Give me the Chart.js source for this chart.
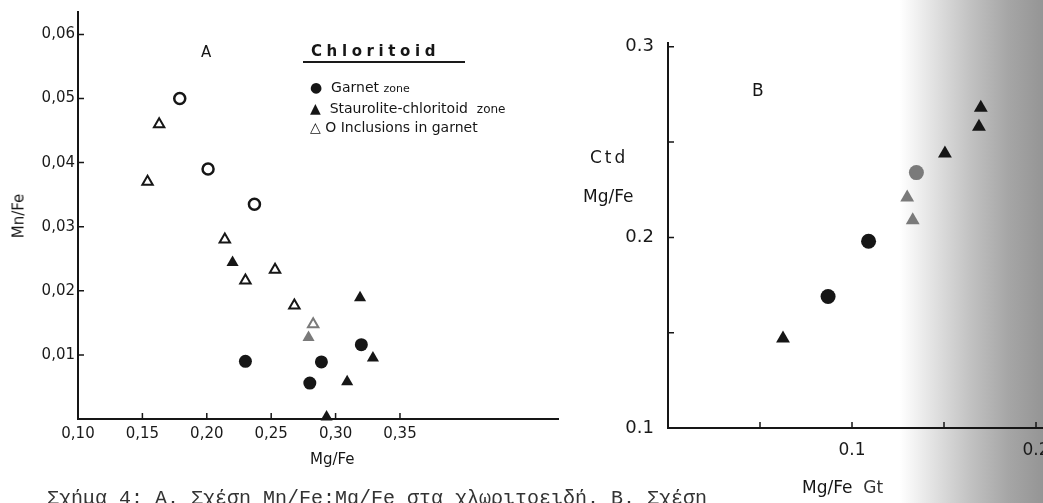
<!DOCTYPE html>
<html>
<head>
<meta charset="utf-8">
<script src="https://cdn.jsdelivr.net/npm/chart.js@4.4.1/dist/chart.umd.min.js"></script>
<style>
  html, body { margin: 0; padding: 0; overflow: hidden; }
  #page {
    position: relative; width: 1043px; height: 503px; overflow: hidden;
    background: linear-gradient(to right, #fff 0px, #fff 900px, #e3e3e3 932px, #c2c2c2 970px, #a6a6a6 1008px, #959595 1043px);
    font-family: "DejaVu Sans", sans-serif; color: #161616;
  }
  canvas { position: absolute; top: 0; }
  .t { position: absolute; line-height: 1; white-space: nowrap; }
</style>
</head>
<body>
<div id="page">
  <canvas id="chartA" width="580" height="503" style="left:0"></canvas>
  <canvas id="chartB" width="520" height="503" style="left:560px"></canvas>

  <div class="t" style="left:11px;top:216px;font-size:15px;transform:translate(0,-50%) rotate(-90deg);transform-origin:center;margin-left:-23px;width:62px;text-align:center">Mn/Fe</div>
  <div class="t" style="left:310px;top:452px;font-size:15px">Mg/Fe</div>
  <div class="t" style="left:201px;top:45px;font-size:15px">A</div>

  <div class="t" style="left:311px;top:44px;font-size:15px;font-weight:bold;letter-spacing:4.6px">Chloritoid</div>
  <div style="position:absolute;left:303px;top:61px;width:162px;height:2px;background:#1a1a1a"></div>
  <div class="t" style="left:310px;top:80px;font-size:14px">●&nbsp;&nbsp;Garnet <span style="font-size:11px">zone</span></div>
  <div class="t" style="left:310px;top:101px;font-size:14px">▲&nbsp;&nbsp;Staurolite-chloritoid&nbsp;&nbsp;<span style="font-size:12px">zone</span></div>
  <div class="t" style="left:310px;top:120px;font-size:14px">△ O Inclusions in garnet</div>

  <div class="t" style="left:752px;top:82px;font-size:17px">B</div>
  <div class="t" style="left:590px;top:149px;font-size:17px;letter-spacing:3px">Ctd</div>
  <div class="t" style="left:583px;top:188px;font-size:17px">Mg/Fe</div>
  <div class="t" style="left:802px;top:479px;font-size:17px">Mg/Fe&nbsp;&nbsp;<span style="color:#333">Gt</span></div>

  <div class="t" style="left:47px;top:489px;font-family:'Liberation Mono',monospace;font-size:20px;color:#333">Σχήμα 4: Α. Σχέση Mn/Fe:Mg/Fe στα χλωριτοειδή. Β. Σχέση</div>
</div>

<script>
// --- Figure A: Mn/Fe vs Mg/Fe (chloritoid) ---
const aGarnetX = [0.320, 0.230, 0.289, 0.280];
const aGarnetY = [0.0116, 0.0090, 0.0089, 0.0056];
const aStauroX = [0.220, 0.319, 0.329, 0.309, 0.293];
const aStauroY = [0.0244, 0.0189, 0.0095, 0.0058, 0.0003];
const aStauroGrayX = [0.279];
const aStauroGrayY = [0.0127];
const aInclTriX = [0.163, 0.154, 0.214, 0.253, 0.230, 0.268];
const aInclTriY = [0.0460, 0.0370, 0.0280, 0.0233, 0.0216, 0.0177];
const aInclTriGrayX = [0.2826];
const aInclTriGrayY = [0.0148];
const aInclCircX = [0.179, 0.201, 0.237];
const aInclCircY = [0.0500, 0.0390, 0.0335];

const aXTicks = [0.10, 0.15, 0.20, 0.25, 0.30, 0.35];
const aXLabels = ['0,10', '0,15', '0,20', '0,25', '0,30', '0,35'];
const aYTicks = [0.01, 0.02, 0.03, 0.04, 0.05, 0.06];
const aYLabels = ['0,01', '0,02', '0,03', '0,04', '0,05', '0,06'];

// --- Figure B: Ctd Mg/Fe vs Gt Mg/Fe ---
const bGarnetX = [0.109, 0.087];
const bGarnetY = [0.198, 0.169];
const bGarnetGrayX = [0.135];
const bGarnetGrayY = [0.234];
const bStauroX = [0.170, 0.169, 0.1505, 0.0625];
const bStauroY = [0.268, 0.258, 0.244, 0.147];
const bStauroGrayX = [0.130, 0.133];
const bStauroGrayY = [0.221, 0.209];

const bXTicks = [0.05, 0.10, 0.15, 0.20];
const bXLabels = ['', '0.1', '', '0.2'];
const bYTicks = [0.10, 0.15, 0.20, 0.25, 0.30];
const bYLabels = ['0.1', '', '0.2', '', '0.3'];

const INK = '#161616';
const GRAY = '#7a7a7a';

function pts(xs, ys) {
    return xs.map((x, i) => ({ x: x, y: ys[i] }));
}

function series(xs, ys, style, fill, stroke, radius, bw) {
    return {
        data: pts(xs, ys),
        pointStyle: style,
        pointRadius: radius,
        pointBackgroundColor: fill,
        pointBorderColor: stroke,
        pointBorderWidth: bw,
        showLine: false,
        clip: false
    };
}

// small tick marks drawn toward the inside of the plot, as on the original drawing
const inwardTicks = {
    id: 'inwardTicks',
    afterDraw(chart) {
        const { ctx, chartArea, scales } = chart;
        ctx.save();
        ctx.strokeStyle = INK;
        ctx.lineWidth = 1.5;
        ctx.beginPath();
        scales.x.ticks.forEach(t => {
            const px = scales.x.getPixelForValue(t.value);
            if (px - chartArea.left < 3) return;
            ctx.moveTo(px, chartArea.bottom);
            ctx.lineTo(px, chartArea.bottom - 6);
        });
        scales.y.ticks.forEach(t => {
            const py = scales.y.getPixelForValue(t.value);
            if (chartArea.bottom - py < 3) return;
            ctx.moveTo(chartArea.left, py);
            ctx.lineTo(chartArea.left + 6, py);
        });
        ctx.stroke();
        ctx.restore();
    }
};

function axis(min, max, tickVals, tickLabels, fixed, isX, font, pad) {
    return {
        type: 'linear',
        min: min,
        max: max,
        grid: { display: false, drawTicks: false },
        border: { display: true, color: INK, width: 2 },
        afterBuildTicks: s => { s.ticks = tickVals.map(v => ({ value: v })); },
        afterFit: s => { if (isX) s.height = fixed; else s.width = fixed; },
        ticks: {
            padding: pad,
            color: '#1a1a1a',
            font: { family: 'DejaVu Sans', size: font },
            callback: (v, i) => tickLabels[i]
        }
    };
}

function baseOptions(padding, scales) {
    return {
        responsive: false,
        animation: false,
        layout: { padding: padding },
        plugins: { legend: { display: false }, tooltip: { enabled: false } },
        scales: scales
    };
}

new Chart(document.getElementById('chartA'), {
    type: 'scatter',
    data: {
        datasets: [
            series(aInclCircX, aInclCircY, 'circle', '#fff', INK, 5.5, 2.5),
            series(aInclTriX, aInclTriY, 'triangle', '#fff', INK, 6, 2),
            series(aInclTriGrayX, aInclTriGrayY, 'triangle', '#fff', GRAY, 6, 2),
            series(aStauroX, aStauroY, 'triangle', INK, INK, 7, 0),
            series(aStauroGrayX, aStauroGrayY, 'triangle', GRAY, GRAY, 7, 0),
            series(aGarnetX, aGarnetY, 'circle', INK, INK, 6.5, 0)
        ]
    },
    options: baseOptions({ left: 0, top: 10, right: 22, bottom: 44 }, {
        x: axis(0.10, 0.4727, aXTicks, aXLabels, 40, true, 15, 6),
        y: axis(0, 0.0635, aYTicks, aYLabels, 78, false, 15, 3)
    }),
    plugins: [inwardTicks]
});

new Chart(document.getElementById('chartB'), {
    type: 'scatter',
    data: {
        datasets: [
            series(bStauroX, bStauroY, 'triangle', INK, INK, 8, 0),
            series(bStauroGrayX, bStauroGrayY, 'triangle', GRAY, GRAY, 8, 0),
            series(bGarnetX, bGarnetY, 'circle', INK, INK, 7.5, 0),
            series(bGarnetGrayX, bGarnetGrayY, 'circle', GRAY, GRAY, 7.5, 0)
        ]
    },
    options: baseOptions({ left: 0, top: 43, right: 37, bottom: 45 }, {
        x: axis(0, 0.2038, bXTicks, bXLabels, 30, true, 17, 12),
        y: axis(0.1, 0.302, bYTicks, bYLabels, 108, false, 18, 14)
    }),
    plugins: [inwardTicks]
});
</script>
</body>
</html>
